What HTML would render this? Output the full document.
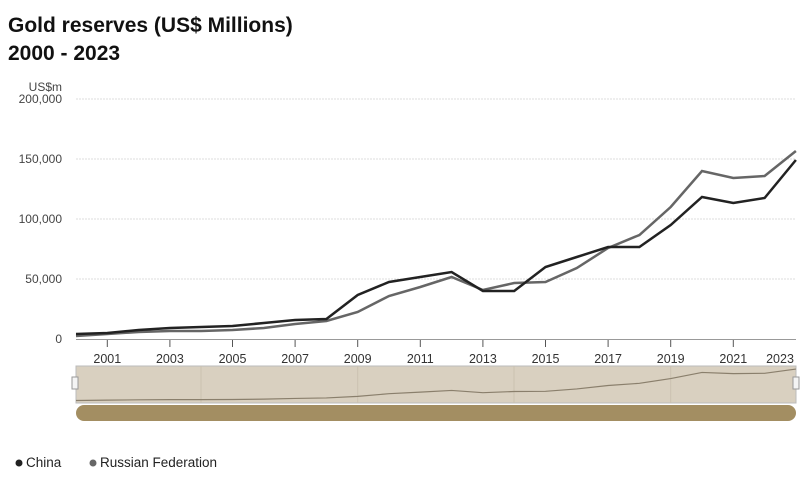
<!DOCTYPE html>
<html><head><meta charset="utf-8"><style>
body{margin:0;background:#fff;width:800px;height:482px;overflow:hidden;font-family:"Liberation Sans",sans-serif}
</style></head><body>
<svg width="800" height="482" xmlns="http://www.w3.org/2000/svg" font-family="Liberation Sans, sans-serif">
<text x="8" y="32" font-size="21" font-weight="bold" fill="#111">Gold reserves (US$ Millions)</text>
<text x="8" y="60" font-size="21" font-weight="bold" fill="#111">2000 - 2023</text>
<g stroke="#ddd" stroke-dasharray="2,1">
<line x1="76" x2="796" y1="99" y2="99"/><line x1="76" x2="796" y1="159" y2="159"/>
<line x1="76" x2="796" y1="219" y2="219"/><line x1="76" x2="796" y1="279" y2="279"/>
</g>
<g font-size="12" fill="#444" text-anchor="end">
<text x="62" y="91">US$m</text>
<text x="62" y="103">200,000</text><text x="62" y="163">150,000</text>
<text x="62" y="223">100,000</text><text x="62" y="283">50,000</text><text x="62" y="343">0</text>
</g>
<line x1="76" x2="796" y1="339.5" y2="339.5" stroke="#999"/>
<g stroke="#555">
<line x1="107.3" x2="107.3" y1="340" y2="347"/><line x1="169.9" x2="169.9" y1="340" y2="347"/>
<line x1="232.5" x2="232.5" y1="340" y2="347"/><line x1="295.1" x2="295.1" y1="340" y2="347"/>
<line x1="357.7" x2="357.7" y1="340" y2="347"/><line x1="420.3" x2="420.3" y1="340" y2="347"/>
<line x1="482.9" x2="482.9" y1="340" y2="347"/><line x1="545.5" x2="545.5" y1="340" y2="347"/>
<line x1="608.1" x2="608.1" y1="340" y2="347"/><line x1="670.7" x2="670.7" y1="340" y2="347"/>
<line x1="733.3" x2="733.3" y1="340" y2="347"/>
</g>
<g font-size="12.5" fill="#333" text-anchor="middle">
<text x="107.3" y="363">2001</text><text x="169.9" y="363">2003</text><text x="232.5" y="363">2005</text>
<text x="295.1" y="363">2007</text><text x="357.7" y="363">2009</text><text x="420.3" y="363">2011</text>
<text x="482.9" y="363">2013</text><text x="545.5" y="363">2015</text><text x="608.1" y="363">2017</text>
<text x="670.7" y="363">2019</text><text x="733.3" y="363">2021</text><text x="780" y="363">2023</text>
</g>
<polyline fill="none" stroke="#666" stroke-width="2.5" points="76,336 107.3,334 138.6,332 169.9,331 201.2,331 232.5,330 263.8,328 295.1,324 326.4,321 357.7,312 389,296 420.3,287 451.6,277 482.9,290 514.2,283 545.5,282 576.8,268 608.1,248 639.4,235 670.7,207 702,171 733.3,178 764.6,176 795.9,151"/>
<polyline fill="none" stroke="#222" stroke-width="2.5" points="76,334 107.3,333 138.6,330 169.9,328 201.2,327 232.5,326 263.8,323 295.1,320 326.4,319 357.7,295 389,282 420.3,277 451.6,272 482.9,291 514.2,291 545.5,267 576.8,257 608.1,247 639.4,247 670.7,225 702,197 733.3,203 764.6,198 795.9,160"/>
<rect x="76" y="366" width="720" height="37" fill="#d9d0c0" stroke="#bbb"/>
<g stroke="#cbc2b0"><line x1="201" x2="201" y1="366" y2="403"/><line x1="357.7" x2="357.7" y1="366" y2="403"/><line x1="514" x2="514" y1="366" y2="403"/><line x1="670.7" x2="670.7" y1="366" y2="403"/></g>
<polyline fill="none" stroke="#8a7f6c" stroke-width="1.2" transform="translate(0,401) scale(1,0.17) translate(0,-339)" vector-effect="non-scaling-stroke" points="76,336 107.3,334 138.6,332 169.9,331 201.2,331 232.5,330 263.8,328 295.1,324 326.4,321 357.7,312 389,296 420.3,287 451.6,277 482.9,290 514.2,283 545.5,282 576.8,268 608.1,248 639.4,235 670.7,207 702,171 733.3,178 764.6,176 795.9,151"/>
<rect x="72" y="377" width="6" height="12" fill="#f4f4f4" stroke="#999"/>
<rect x="793" y="377" width="6" height="12" fill="#f4f4f4" stroke="#999"/>
<rect x="76" y="405" width="720" height="16" rx="8" fill="#a38e62"/>
<circle cx="19" cy="463" r="3.5" fill="#222"/>
<text x="26" y="467" font-size="13.5" fill="#222">China</text>
<circle cx="93" cy="463" r="3.5" fill="#666"/>
<text x="100" y="467" font-size="13.5" fill="#222">Russian Federation</text>
</svg>
</body></html>
